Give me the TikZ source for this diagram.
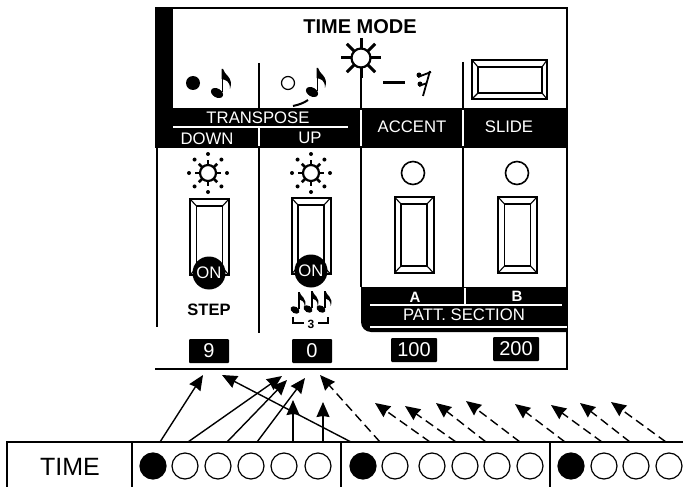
\documentclass[tikz,border=0pt]{standalone}
\usepackage{fontspec}
\setmainfont{Liberation Sans}
\usepackage{tikz}
\usetikzlibrary{arrows.meta}

\begin{document}
\begin{tikzpicture}[
    x=1pt, y=-1pt,
    every node/.style={inner sep=0pt},
    lab/.style={font=\fontsize{16.7}{18}\selectfont},
    whitelab/.style={lab, text=white},
    boldlab/.style={font=\bfseries\fontsize{16.5}{18}\selectfont},
    valbox/.style={fill=black, text=white, rounded corners=1pt, minimum height=24pt, font=\fontsize{20}{22}\selectfont},
    lamp/.style={draw, circle, line width=1.6pt, minimum size=23pt},
    beat/.style={draw, circle, line width=1.2pt, minimum size=26pt},
    onbeat/.style={beat, fill=black},
    onlamp/.style={circle, fill=black, text=white, minimum size=33pt, font=\fontsize{16.7}{18}\selectfont},
    divider/.style={line width=1.6pt},
    whiteline/.style={white, line width=1.1pt},
    flow/.style={-{Stealth[length=15pt,width=13pt,inset=1pt]}, line width=1.4pt},
    flowdash/.style={flow, dash pattern=on 9pt off 5pt},
    quaver/.pic={
        \fill (0,0) ellipse[x radius=6.5, y radius=4.4, rotate=-30];
        \draw[line width=1.5pt] (5.3,-1) -- (5.3,-24);
        \fill (4.6,-24) -- (6,-24) .. controls (7,-18) and (17,-16) .. (13,-4) .. controls (13,-12) and (9,-13) .. (4.6,-14) -- cycle;
    },
    sunbig/.pic={
        \draw[line width=2.2pt] (0,0) circle (9.5);
        \foreach \a in {0,45,...,315} \draw[line width=3pt] (\a:10) -- (\a:20);
    },
    sunsmall/.pic={
        \draw[line width=2.2pt] (0,0) circle (8);
        \foreach \a in {0,45,...,315} {
            \draw[line width=2.6pt] (\a:8.5) -- (\a:13);
            \fill (\a:19) circle (2);
        }
    },
    switchcap/.pic={
        \draw[line width=2pt] (-19.5,-38) rectangle (19.5,38);
        \draw[line width=1.3pt] (-13,-31) rectangle (13,31);
        \foreach \sx/\sy in {-1/-1,1/-1,1/1,-1/1}
            \draw[line width=1.1pt] (\sx*19.5,\sy*38) -- (\sx*13,\sy*31);
    }
]
\useasboundingbox (0,0) rectangle (683,487);

% panel outline and black areas
\draw[line width=1.6pt] (155,8) -- (567,8) -- (567,369) -- (155,369);
\fill (155,9) rectangle (173,108);
\fill (155,108) rectangle (567,148);
\fill (567,287) -- (361,287) [rounded corners=10pt] -- (361,332) [sharp corners] -- (567,332) -- cycle;
\draw[divider] (259,63) -- (259,108);
\draw[divider] (361,75) -- (361,108);
\draw[divider] (463,62) -- (463,108);
\draw[divider] (157,148) -- (157,327);
\draw[divider] (259,148) -- (259,333);
\draw[divider] (361,148) -- (361,287);
\draw[divider] (463,148) -- (463,287);
\draw[whiteline] (173,127) -- (348,127);
\draw[whiteline] (259,128) -- (259,146);
\draw[whiteline] (361,110) -- (361,146);
\draw[whiteline] (463,110) -- (463,146);
\draw[whiteline] (370,305) -- (562,305);
\draw[whiteline] (465,288) -- (465,304);
\draw[whiteline] (370,327) -- (567,327);

% top row
\node[font=\bfseries\fontsize{20}{22}\selectfont] (timemode) at (360,27) {TIME MODE};
\path (361,58) pic {sunbig};
\node[circle, fill=black, minimum size=14pt] (dotnote) at (193,83) {};
\node[circle, draw, line width=1.2pt, minimum size=13pt] (opennote) at (288,83) {};
\path (217,93) pic {quaver};
\path (312,92) pic {quaver};
\draw[line width=2pt] (293,106) .. controls (298,105) and (304,103) .. (308,100);
\draw[line width=3pt] (383,83) -- (405,83);
\draw[line width=1.8pt] (423,96) -- (430,71) (418,77) -- (431,72) (419,86) -- (427,83);
\fill (419,75) circle (2.5) (420,84) circle (2.5);
\draw[line width=2pt] (472,60) rectangle (547,99);
\draw[line width=1.3pt] (478,67) rectangle (542,93);
\draw[line width=1.1pt] (472,60) -- (478,67) (547,60) -- (542,67) (472,99) -- (478,93) (547,99) -- (542,93);

% black band labels
\node[whitelab] (transpose) at (258,118) {TRANSPOSE};
\node[whitelab] (down) at (207,139) {DOWN};
\node[whitelab] (up) at (310,138) {UP};
\node[whitelab] (accent) at (412,127) {ACCENT};
\node[whitelab] (slide) at (509,127) {SLIDE};

% lamps and switches
\path (208,173) pic {sunsmall};
\path (311,173) pic {sunsmall};
\node[lamp] (lampa) at (413,173) {};
\node[lamp] (lampb) at (517,173) {};
\path (209.5,237) pic {switchcap};
\path (311,236) pic {switchcap};
\path (414,235) pic {switchcap};
\path (517.5,235) pic {switchcap};
\node[onlamp] (ondown) at (209,273) {ON};
\node[onlamp] (onup) at (311,271) {ON};
\node[boldlab] (stepname) at (209,310) {STEP};
\path (295,310) pic[scale=.75] {quaver};
\path (308,309) pic[scale=.75] {quaver};
\path (321,309) pic[scale=.75] {quaver};
\draw[line width=1.3pt] (293,317) -- (293,323) -- (304,323) (318,323) -- (328,323) -- (328,317);
\node[font=\bfseries\fontsize{12}{13}\selectfont] (three) at (311,324) {3};
\node[font=\bfseries\fontsize{15}{16}\selectfont, text=white] (secta) at (415,297) {A};
\node[font=\bfseries\fontsize{15}{16}\selectfont, text=white] (sectb) at (517,296) {B};
\node[whitelab] (pattsection) at (464,315) {PATT. SECTION};

% value boxes
\node[valbox, minimum width=40pt] (val9) at (209,351) {9};
\node[valbox, minimum width=40pt] (val0) at (312,351) {0};
\node[valbox, minimum width=46pt] (val100) at (414,350) {100};
\node[valbox, minimum width=46pt] (val200) at (516,349) {200};

% time strip
\draw[line width=1.1pt] (7,487) -- (7,442) -- (683,442);
\draw[line width=1.1pt] (132,442) -- (132,487);
\draw[line width=1.1pt] (341,442) -- (341,487);
\draw[line width=1.1pt] (550,442) -- (550,487);
\node[font=\fontsize{25}{27}\selectfont] (time) at (70,467) {TIME};
\foreach \n/\bx in {1/153,7/363,13/571}
    \node[onbeat] (beat\n) at (\bx,466) {};
\foreach \n/\bx in {2/185,3/218,4/251,5/284,6/318,8/395,9/432,10/465,11/497,12/530,14/604,15/636,16/669}
    \node[beat] (beat\n) at (\bx,466) {};

% arrows
\foreach \n/\sx/\ex/\ey in {1/160/203/375,2/188/282/376,3/227/287/380,4/257/305/378,5/293/293/400,6/323/323/402,7/351/222/375}{
    \coordinate (from\n) at (\sx,442);
    \coordinate (to\n) at (\ex,\ey);
    \draw[flow] (from\n) -- (to\n);
}
\foreach \n/\sx/\ex/\ey in {8/380/320/375,9/430/375/403,10/456/405/406,11/486/436/403,12/520/466/401,13/565/515/404,14/602/551/405,15/630/580/403,16/666/611/402}{
    \coordinate (from\n) at (\sx,442);
    \coordinate (to\n) at (\ex,\ey);
    \draw[flowdash] (from\n) -- (to\n);
}
\end{tikzpicture}
\end{document}
